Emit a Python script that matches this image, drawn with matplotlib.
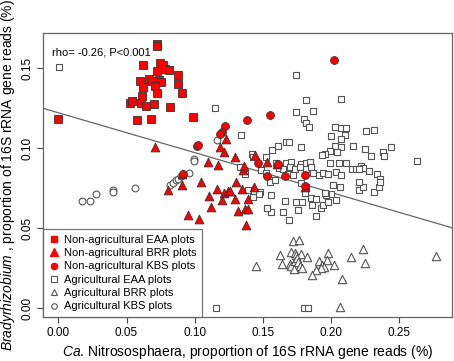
import matplotlib
matplotlib.use("Agg")
import matplotlib.pyplot as plt
from matplotlib.lines import Line2D

plt.rcParams['font.family'] = ['Liberation Sans', 'DejaVu Sans']
plt.rcParams['mathtext.fontset'] = 'custom'
plt.rcParams['mathtext.rm'] = 'Liberation Sans'
plt.rcParams['mathtext.it'] = 'Liberation Sans:italic'

# ---- data ----
nonag_eaa_x = [0.000, 0.0722, 0.0722, 0.0622, 0.0744, 0.0764, 0.0781, 0.081, 0.0727, 0.0598,
               0.0664, 0.0686, 0.0737, 0.0749, 0.0708, 0.0622, 0.0878, 0.0874, 0.0724, 0.0903,
               0.0617, 0.0525, 0.0542, 0.0603, 0.0642, 0.0702, 0.0822, 0.0574, 0.0678, 0.0988]
nonag_eaa_y = [0.1187, 0.1656, 0.1640, 0.152, 0.1537, 0.152, 0.1495, 0.149, 0.1483, 0.1422,
               0.1437, 0.1422, 0.1431, 0.1416, 0.1389, 0.1381, 0.1458, 0.1406, 0.1344, 0.1344,
               0.1329, 0.1287, 0.1298, 0.1281, 0.1264, 0.1277, 0.126, 0.1177, 0.1187, 0.1197]

nonag_brr_x = [0.071, 0.091, 0.0805, 0.091, 0.1049, 0.1098, 0.117, 0.1232, 0.1188, 0.1212,
               0.1293, 0.1354, 0.1361, 0.1441, 0.1529, 0.1163, 0.1212, 0.1244, 0.1256, 0.1105,
               0.1203, 0.1298, 0.1305, 0.1346, 0.1432, 0.139, 0.1117, 0.1317, 0.1371, 0.139,
               0.0947, 0.103, 0.1378, 0.1605, 0.1807]
nonag_brr_y = [0.101, 0.0837, 0.0739, 0.0771, 0.0791, 0.0913, 0.0896, 0.1058, 0.1008, 0.0978,
               0.0944, 0.0866, 0.0891, 0.0959, 0.0912, 0.0746, 0.0719, 0.0733, 0.0733, 0.0701,
               0.0678, 0.0682, 0.0791, 0.0748, 0.076, 0.0686, 0.0633, 0.0609, 0.0619, 0.0622,
               0.0586, 0.0558, 0.0518, 0.0902, 0.0757]

nonag_kbs_x = [0.2017, 0.1551, 0.1383, 0.122, 0.1196, 0.1183, 0.1015, 0.1025, 0.0915, 0.1466,
               0.161, 0.1529, 0.1661, 0.1805, 0.1805]
nonag_kbs_y = [0.155, 0.1212, 0.1175, 0.1141, 0.110, 0.1087, 0.1016, 0.1023, 0.084, 0.091,
               0.0904, 0.0827, 0.0829, 0.0835, 0.0765]

ag_eaa_x = [0.0003, 0.1159, 0.180, 0.1829, 0.1152, 0.1342, 0.1744, 0.1817, 0.2074, 0.1744,
            0.1866, 0.1798, 0.1812, 0.1837, 0.203, 0.2074, 0.211, 0.2, 0.2098, 0.2074,
            0.2257, 0.2317, 0.2439, 0.2158, 0.203, 0.2074, 0.1781, 0.161, 0.1671, 0.169,
            0.1569, 0.2249, 0.2378, 0.2386, 0.2293, 0.1988, 0.1951, 0.1932, 0.2041, 0.2056,
            0.211, 0.1988, 0.263, 0.222, 0.2232, 0.2151, 0.2178, 0.2207, 0.2276, 0.2337,
            0.2359, 0.142, 0.1427, 0.1525, 0.1598, 0.1488, 0.1525, 0.133, 0.1366, 0.1671,
            0.1707, 0.1781, 0.1812, 0.1842, 0.1617, 0.1646, 0.1695, 0.1732, 0.1769, 0.1817,
            0.1854, 0.1683, 0.1719, 0.1866, 0.191, 0.1939, 0.1976, 0.2037, 0.2074, 0.1476,
            0.1471, 0.1554, 0.1586, 0.1561, 0.1529, 0.1561, 0.1646, 0.169, 0.1663, 0.1739,
            0.1788, 0.1756, 0.1859, 0.1849, 0.1886, 0.1891, 0.1927, 0.1939, 0.1976, 0.2,
            0.2037, 0.1964, 0.1951, 0.1427, 0.2061, 0.2207, 0.2232, 0.2207, 0.2317, 0.2347,
            0.2359, 0.2012, 0.1817, 0.1781, 0.1805, 0.139, 0.1532]
ag_eaa_y = [0.1512, 0.0, 0.0, 0.0, 0.1254, 0.1083, 0.1458, 0.1302, 0.1308, 0.1229,
            0.1233, 0.1183, 0.116, 0.1135, 0.1135, 0.1129, 0.1125, 0.1077, 0.1083, 0.1056,
            0.1108, 0.1114, 0.101, 0.1014, 0.1016, 0.101, 0.101, 0.1016, 0.1041, 0.1041,
            0.0989, 0.0994, 0.098, 0.0952, 0.0952, 0.0985, 0.0964, 0.0958, 0.098, 0.0906,
            0.091, 0.0906, 0.0921, 0.0891, 0.0879, 0.0869, 0.0871, 0.0871, 0.086, 0.0837,
            0.0808, 0.0964, 0.0948, 0.0948, 0.0906, 0.0864, 0.0848, 0.0885, 0.0839, 0.0906,
            0.0912, 0.0901, 0.0909, 0.0915, 0.0879, 0.0872, 0.0884, 0.0868, 0.0881, 0.0874,
            0.0886, 0.0842, 0.0835, 0.0848, 0.0831, 0.0845, 0.0838, 0.0851, 0.0834, 0.0729,
            0.0714, 0.0791, 0.0802, 0.0708, 0.0625, 0.0604, 0.0604, 0.0552, 0.0671, 0.0667,
            0.0667, 0.0614, 0.0646, 0.0687, 0.0681, 0.0577, 0.0625, 0.0646, 0.0667, 0.0714,
            0.0677, 0.0708, 0.0719, 0.0698, 0.076, 0.0739, 0.076, 0.0791, 0.0729, 0.076,
            0.0791, 0.0771, 0.076, 0.0781, 0.0719, 0.074, 0.0627]

ag_brr_x = [0.172, 0.1761, 0.1627, 0.1707, 0.1732, 0.1744, 0.1781, 0.1822, 0.1976, 0.2142,
            0.2235, 0.2249, 0.2766, 0.1452, 0.1642, 0.1695, 0.1707, 0.1732, 0.1749, 0.1759,
            0.1768, 0.1729, 0.1788, 0.191, 0.1971, 0.1934, 0.1944, 0.1927, 0.2019, 0.1886,
            0.1857, 0.2076, 0.2065]
ag_brr_y = [0.0423, 0.0429, 0.0335, 0.0352, 0.0346, 0.0335, 0.0339, 0.0318, 0.0347, 0.0323,
            0.0373, 0.0283, 0.0329, 0.0267, 0.0279, 0.0277, 0.0261, 0.0298, 0.0314, 0.0287,
            0.0266, 0.0243, 0.0254, 0.0298, 0.0304, 0.0269, 0.0256, 0.0252, 0.0269, 0.0238,
            0.0210, 0.0185, 0.0005]

ag_kbs_x = [0.0171, 0.0232, 0.0274, 0.0402, 0.0402, 0.0561, 0.0822, 0.0839, 0.0863, 0.0876,
            0.0900, 0.0956, 0.0993, 0.0997, 0.1166]
ag_kbs_y = [0.0669, 0.0669, 0.0716, 0.0739, 0.0725, 0.0754, 0.0769, 0.0783, 0.080, 0.081,
            0.0825, 0.0844, 0.0935, 0.0919, 0.1054]

fit_intercept = 0.1223
fit_slope = -0.2495
annot = "rho= -0.26, P<0.001"
legend_labels = ["Non-agricultural EAA plots", "Non-agricultural BRR plots",
                 "Non-agricultural KBS plots", "Agricultural EAA plots",
                 "Agricultural BRR plots", "Agricultural KBS plots"]

# ---- plot ----
fig = plt.figure(figsize=(4.54, 3.61), dpi=100)
ax = fig.add_axes([43/454, 44/361, 409/454, 284/361])

gray = '#555555'
ax.scatter(ag_eaa_x, ag_eaa_y, marker='s', s=20, facecolors='white', edgecolors=gray, linewidths=0.8, zorder=2)
ax.scatter(ag_brr_x, ag_brr_y, marker='^', s=36, facecolors='white', edgecolors=gray, linewidths=0.8, zorder=2)
ax.scatter(ag_kbs_x, ag_kbs_y, marker='o', s=24, facecolors='white', edgecolors=gray, linewidths=0.8, zorder=2)
ax.scatter(nonag_eaa_x, nonag_eaa_y, marker='s', s=28, facecolors='#ff0000', edgecolors='#333333', linewidths=0.6, zorder=3)
ax.scatter(nonag_brr_x, nonag_brr_y, marker='^', s=40, facecolors='#ff0000', edgecolors='#333333', linewidths=0.6, zorder=3)
ax.scatter(nonag_kbs_x, nonag_kbs_y, marker='o', s=32, facecolors='#ff0000', edgecolors='#333333', linewidths=0.6, zorder=3)

ax.axline((0, fit_intercept), slope=fit_slope, color='#666666', lw=0.9, zorder=1)

ax.set_xlim(-0.0112, 0.2885)
ax.set_ylim(-0.0055, 0.1722)
ax.set_xticks([0.0, 0.05, 0.10, 0.15, 0.20, 0.25])
ax.set_xticklabels(['0.00', '0.05', '0.10', '0.15', '0.20', '0.25'])
ax.set_yticks([0.0, 0.05, 0.10, 0.15])
ax.set_yticklabels(['0.00', '0.05', '0.10', '0.15'], rotation=90, va='center')
ax.tick_params(labelsize=8.5, length=4, width=0.8, color='#444444', pad=3)
for sp in ax.spines.values():
    sp.set_color('#666666')
    sp.set_linewidth(0.9)

ax.text(0.022, 0.933, annot, transform=ax.transAxes, fontsize=8, va='center', ha='left')

ax.set_xlabel(r'$\it{Ca}$. Nitrososphaera, proportion of 16S rRNA gene reads (%)', fontsize=10, labelpad=3)
ax.set_ylabel(r'$\it{Bradyrhizobium}$ , proportion of 16S rRNA gene reads (%)', fontsize=10, labelpad=3)

handles = [
    Line2D([], [], ls='none', marker='s', ms=4, mfc='#ff0000', mec='#ff0000'),
    Line2D([], [], ls='none', marker='^', ms=5.5, mfc='#ff0000', mec='#ff0000'),
    Line2D([], [], ls='none', marker='o', ms=4.5, mfc='#ff0000', mec='#ff0000'),
    Line2D([], [], ls='none', marker='s', ms=4, mfc='white', mec=gray, mew=0.8),
    Line2D([], [], ls='none', marker='^', ms=5, mfc='white', mec=gray, mew=0.8),
    Line2D([], [], ls='none', marker='o', ms=4, mfc='white', mec=gray, mew=0.8),
]
leg = ax.legend(handles, legend_labels, loc='lower left', fontsize=8, frameon=True,
                fancybox=False, borderaxespad=0, handlelength=1.0, handletextpad=0.4,
                labelspacing=0.3, borderpad=0.5)
leg.get_frame().set_edgecolor('#555555')
leg.get_frame().set_linewidth(0.9)

fig.savefig('out.png', dpi=100)
